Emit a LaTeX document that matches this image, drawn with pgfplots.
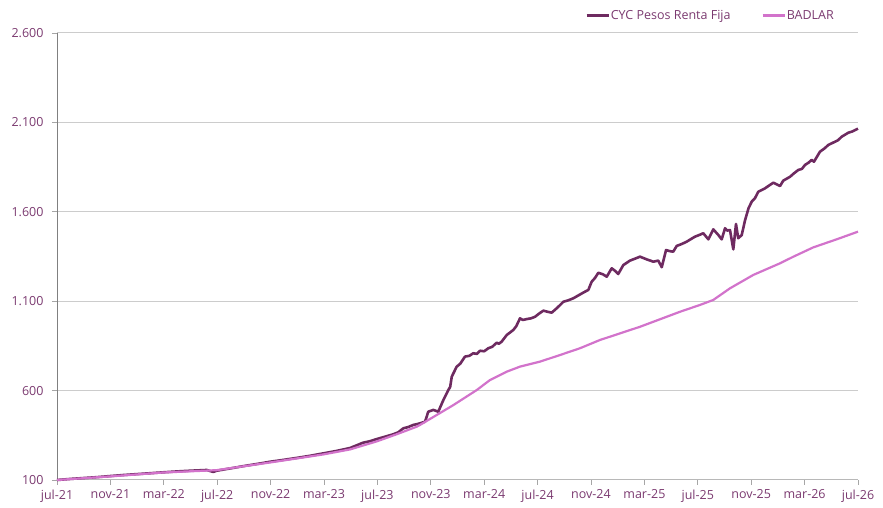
\documentclass[border=0pt]{standalone}
\usepackage{pgfplots}
\pgfplotsset{compat=1.18}
\usepackage{fontspec}
\setmainfont{Open Sans}
\definecolor{cyc}{HTML}{6E2A60}
\definecolor{badlar}{HTML}{D273CB}
\definecolor{txt}{HTML}{7B3A70}
\begin{document}
\begin{tikzpicture}[x=1pt,y=1pt]
\useasboundingbox (-57pt,-28pt) rectangle (826pt,480pt);
\begin{axis}[
  at={(0,0)}, anchor=south west,
  scale only axis, width=801pt, height=447pt,
  xmin=0, xmax=60, ymin=100, ymax=2600,
  axis x line*=bottom, axis y line*=left,
  x axis line style={draw=black!28, line width=1pt},
  y axis line style={draw=black!50, line width=0.8pt},
  xtick={0,4,...,60},
  xticklabels={jul-21,nov-21,mar-22,jul-22,nov-22,mar-23,jul-23,nov-23,mar-24,jul-24,nov-24,mar-25,jul-25,nov-25,mar-26,jul-26},
  ytick={100,600,1100,1600,2100,2600},
  ymajorgrids, grid style={draw=black!20, line width=1pt},
  tick style={draw=black!35, line width=0.8pt},
  major tick length=5pt,
  xtick align=outside, ytick align=outside,
  tick label style={font=\fontsize{12.5}{15}\selectfont, text=txt},
  xticklabel style={yshift=-1pt},
  yticklabel style={xshift=-5pt},
  /pgf/number format/.cd, 1000 sep={.}, assume math mode=true,
  /pgfplots/.cd,
  scaled y ticks=false,
  clip=false,
  legend columns=2,
  legend style={at={(0.975,1)}, anchor=south east, yshift=9pt, draw=none, fill=none,
    font=\fontsize{12.5}{15}\selectfont, text=txt,
    nodes={inner sep=1pt}},
  legend image code/.code={\draw[#1] (0pt,0pt) -- (22pt,0pt);},
  /tikz/every even column/.append style={column sep=30pt},
]
\addplot[cyc, line width=2.6pt, line join=round] coordinates {
(0,100)(1,106)(2,111)(3,116)(3.97,122)(5,128)(6,133)(7,138)(7.96,143)(9,148)(10,152)(11.21,156)(11.71,145)(11.96,152)
(13,165)(14,178)(15,190)(15.96,202)(17,213)(18,224)(19,236)(19.95,249)(20.9,262)(21.95,279)(22.94,309)(23.4,316)(23.95,329)
(24.7,345)(25.2,356)(25.57,367)(25.94,389)(26.3,396)(26.69,408)(27.1,415)(27.57,426)(27.81,482)(28.19,492)(28.56,482)
(28.94,547)(29.31,603)(29.45,620)(29.57,678)(29.94,734)(30.2,750)(30.56,790)(30.9,795)(31.18,809)(31.45,805)(31.69,823)
(32.0,820)(32.31,837)(32.6,845)(32.94,868)(33.1,862)(33.31,874)(33.69,911)(34.18,939)(34.4,960)(34.68,1004)(34.9,995)(35.18,1000)
(35.5,1004)(35.81,1013)(36.1,1030)(36.43,1047)(36.8,1040)(37.06,1036)(37.5,1065)(37.93,1097)(38.3,1105)(38.67,1116)(39.0,1130)
(39.42,1148)(39.80,1163)(40.05,1209)(40.3,1230)(40.55,1259)(40.9,1250)(41.18,1237)(41.4,1265)(41.55,1284)(41.8,1270)(42.04,1252)
(42.42,1302)(42.92,1327)(43.3,1338)(43.67,1349)(44.17,1334)(44.67,1321)(45.04,1327)(45.30,1290)(45.62,1386)(45.9,1380)(46.16,1377)
(46.42,1409)(46.8,1420)(47.17,1433)(47.5,1448)(47.79,1461)(48.1,1470)(48.41,1480)(48.79,1446)(49.16,1502)(49.54,1470)(49.79,1446)
(50.04,1508)(50.2,1495)(50.41,1498)(50.66,1390)(50.86,1532)(51.03,1452)(51.29,1470)(51.54,1553)(51.8,1620)(52.04,1657)(52.28,1676)
(52.53,1712)(53.03,1731)(53.4,1750)(53.66,1763)(54.16,1744)(54.40,1774)(54.91,1796)(55.2,1815)(55.53,1834)(55.8,1840)(56.03,1862)
(56.3,1875)(56.53,1890)(56.7,1880)(57.15,1936)(57.5,1955)(57.78,1974)(58.28,1992)(58.5,2000)(58.78,2020)(59.27,2042)(59.6,2050)(60,2065)
};
\addlegendentry{CYC Pesos Renta Fija}
\addplot[badlar, line width=2.2pt, line join=round] coordinates {
(0,100)(3.97,120)(7.96,142)(11.96,155)(15.96,198)(19.95,243)(21.95,271)(23.95,316)(25.45,356)(26.94,398)(27.19,408)
(29.69,519)(31.44,603)(32.43,659)(33.69,706)(34.68,734)(36.18,762)(37.68,799)(39.18,837)(40.67,883)(42.17,920)
(43.67,957)(45.17,999)(46.67,1041)(48.16,1079)(49.16,1107)(50.41,1172)(52.16,1247)(54.16,1312)(55.16,1349)(56.65,1401)
(58.40,1446)(60,1489)
};
\addlegendentry{BADLAR}
\end{axis}
\end{tikzpicture}
\end{document}
